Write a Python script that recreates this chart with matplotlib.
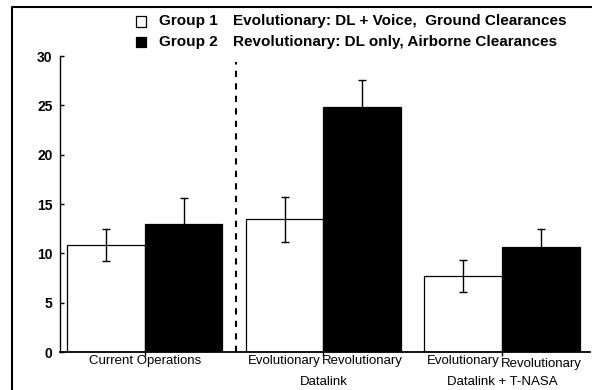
import matplotlib
matplotlib.use("Agg")
from matplotlib import pyplot as plt
from matplotlib.lines import Line2D
from matplotlib.patches import Rectangle
import matplotlib.transforms as mtransforms

plt.rcParams['font.family'] = ['Liberation Sans', 'DejaVu Sans']

# data
groups = ["Current Operations", "Datalink", "Datalink + T-NASA"]
group1 = [10.85, 13.45, 7.7]
err1 = [1.6, 2.3, 1.6]
group2 = [13.0, 24.8, 10.67]
err2 = [2.65, 2.77, 1.77]
bar_labels = [["Current Operations", ""], ["Evolutionary", "Revolutionary"],
              ["Evolutionary", "Revolutionary"]]
legend_names = ["Group 1", "Group 2"]
legend_desc = ["Evolutionary: DL + Voice,  Ground Clearances",
               "Revolutionary: DL only, Airborne Clearances"]

W, H = 592, 390
fig = plt.figure(figsize=(W / 100, H / 100), dpi=100)

def fx(px):
    return px / W

def fy(py):
    return 1 - py / H

ax = fig.add_axes([fx(59.5), fy(352), fx(590) - fx(59.5), fy(56) - fy(352)])

centers = [0, 2.3, 4.6]
x1 = [c - 0.5 for c in centers]
x2 = [c + 0.5 for c in centers]

ax.bar(x1, group1, width=1.0, color="white", edgecolor="black", linewidth=0.9)
ax.bar(x2, group2, width=1.0, color="black", edgecolor="black", linewidth=0.9)
ax.errorbar(x1, group1, yerr=err1, fmt="none", ecolor="black",
            elinewidth=1, capsize=3, capthick=1)
ax.errorbar(x2, group2, yerr=err2, fmt="none", ecolor="black",
            elinewidth=1, capsize=3, capthick=1)

ax.axvline(1.17, ymin=0, ymax=29.4 / 30, color="black", linestyle=(0, (3, 3)),
           linewidth=1.5)

ax.set_xlim(-1.097, 5.73)
ax.set_ylim(0, 30)
ax.set_yticks([0, 5, 10, 15, 20, 25, 30])
ax.tick_params(axis="y", direction="in", length=3, width=1, labelsize=10, pad=5)
for lab in ax.get_yticklabels():
    lab.set_fontweight("bold")
ax.set_xticks(centers)
ax.set_xticklabels([])
ax.tick_params(axis="x", direction="out", length=3, width=1)
for s in ["top", "right"]:
    ax.spines[s].set_visible(False)
ax.spines["left"].set_linewidth(1)
ax.spines["bottom"].set_linewidth(1.3)

# category labels under the bars
trans = mtransforms.blended_transform_factory(ax.transData, fig.transFigure)
for i, c in enumerate(centers):
    if i == 0:
        ax.text(c, fy(361), bar_labels[i][0], transform=trans, ha="center",
                va="center", fontsize=9.5)
        continue
    ax.text(c - 0.5, fy(361), bar_labels[i][0], transform=trans, ha="center",
            va="center", fontsize=9.5)
    ax.text(c + 0.5, fy(361 if i == 1 else 364), bar_labels[i][1],
            transform=trans, ha="center", va="center", fontsize=9.5)
    ax.text(c, fy(382), groups[i], transform=trans, ha="center",
            va="center", fontsize=9.5)

# legend drawn by hand
colors = ["white", "black"]
rows = [21.5, 42]
for i in range(2):
    fig.patches.append(Rectangle((fx(136), fy(rows[i] + 5)), fx(10), 10 / H,
                                 facecolor=colors[i], edgecolor="black",
                                 linewidth=0.9, transform=fig.transFigure))
    fig.text(fx(159), fy(rows[i]), legend_names[i], fontsize=11,
             fontweight="bold", va="center", ha="left")
    fig.text(fx(233), fy(rows[i]), legend_desc[i], fontsize=11,
             fontweight="bold", va="center", ha="left")

# outer frame (left and top only)
fig.add_artist(Line2D([fx(12), fx(12), 1.0], [0.0, fy(7), fy(7)],
                      color="black", linewidth=1.5, transform=fig.transFigure))

fig.savefig("out.png", dpi=100)
